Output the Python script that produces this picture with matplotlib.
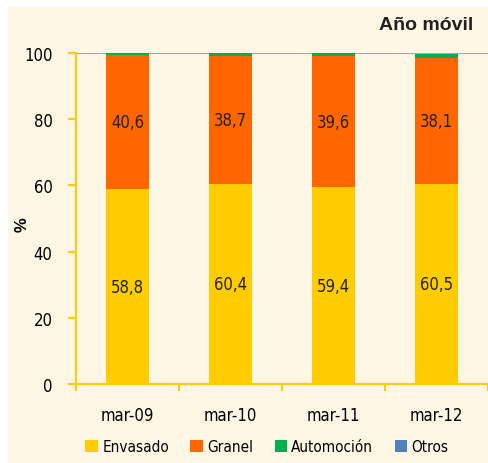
import matplotlib
matplotlib.use("Agg")
import matplotlib.pyplot as plt
import numpy as np
from matplotlib.patches import Rectangle

categories = ["mar-09", "mar-10", "mar-11", "mar-12"]
envasado = [58.8, 60.4, 59.4, 60.5]
granel = [40.6, 38.7, 39.6, 38.1]
automocion = [0.8, 1.1, 1.1, 1.2]
otros = [0.0, 0.0, 0.0, 0.0]
series_names = ["Envasado", "Granel", "Automoción", "Otros"]
colors = ["#FFCC00", "#FF6600", "#00B050", "#4F81BD"]
yticks = [0, 20, 40, 60, 80, 100]

cond = dict(family="DejaVu Sans", stretch="condensed")

fig = plt.figure(figsize=(4.88, 4.64), dpi=100)
fig.patch.set_facecolor("white")
fig.patches.append(Rectangle((8/488, 0), 1, 1 - 8/464, transform=fig.transFigure,
                             facecolor="#FDF6E4", edgecolor="none", zorder=-10))

ax = fig.add_axes([76/488, 1 - 385/464, 1 - 76/488, (385 - 54)/464])
ax.set_facecolor("#FDF6E4")

x = np.arange(len(categories))
w = 0.41
bottom = np.zeros(len(categories))
for vals, name, c in zip([envasado, granel, automocion, otros], series_names, colors):
    ax.bar(x, vals, w, bottom=bottom, color=c, label=name, zorder=2)
    bottom += np.array(vals)

for i in range(len(categories)):
    ax.text(x[i], envasado[i] / 2, f"{envasado[i]:.1f}".replace(".", ","),
            ha="center", va="center", fontsize=12, color="#222222", **cond, zorder=3)
    ax.text(x[i], envasado[i] + granel[i] / 2, f"{granel[i]:.1f}".replace(".", ","),
            ha="center", va="center", fontsize=12, color="#222222", **cond, zorder=3)

ax.set_xlim(-0.5, len(categories) - 0.5)
ax.set_ylim(0, 100)
ax.axhline(100, color="#A6A6A6", lw=1.5, zorder=1)

ax.set_yticks(yticks)
ax.set_yticklabels([str(t) for t in yticks], fontsize=12, **cond)
ax.set_xticks(x)
ax.set_xticklabels(categories, fontsize=12, **cond)
ax.set_xticks(np.arange(-0.5, len(categories)), minor=True)
ax.tick_params(axis="x", which="major", length=0, pad=16)
ax.tick_params(axis="x", which="minor", length=5, color="#FFCC00", width=1.5)
ax.tick_params(axis="y", length=6, color="#FFCC00", width=1.5, pad=11)

for s in ["top", "right"]:
    ax.spines[s].set_visible(False)
for s in ["left", "bottom"]:
    ax.spines[s].set_color("#FFCC00")
    ax.spines[s].set_linewidth(1.5)

fig.text(22/488, 1 - 225/464, "%", rotation=90, ha="center", va="center",
         fontsize=12, fontweight="bold", family="Liberation Sans")
fig.text(473/488, 1 - 26/464, "Año móvil", ha="right", va="center",
         fontsize=14, fontweight="bold", family="Liberation Sans", color="#231F20")

leg = fig.legend(loc="center", bbox_to_anchor=(0.547, 1 - 448/464), ncol=4,
                 frameon=False, prop=dict(size=11, family="DejaVu Sans", stretch="condensed"),
                 handlelength=0.8, handleheight=0.8, handletextpad=0.3, columnspacing=1.4)

fig.savefig("out.png", dpi=100, facecolor=fig.get_facecolor())
